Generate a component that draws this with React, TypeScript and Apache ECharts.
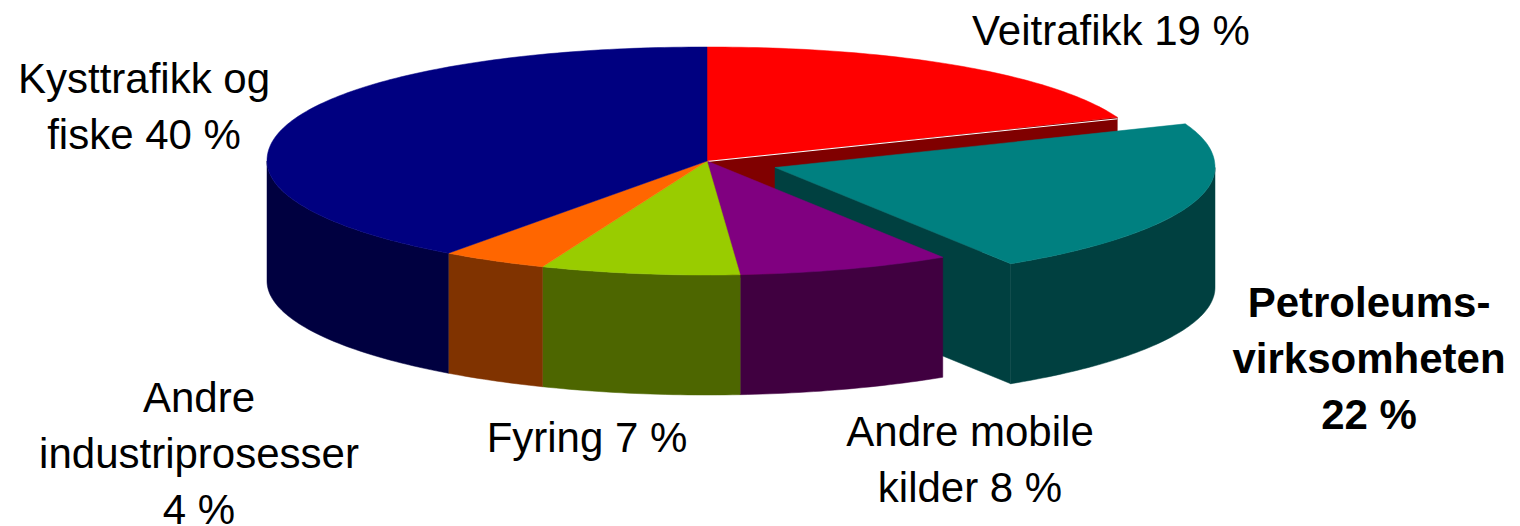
import React, { useEffect, useRef } from "react";
import * as echarts from "echarts";

const categories = ["Veitrafikk", "Petroleumsvirksomheten", "Andre mobile kilder", "Fyring", "Andre industriprosesser", "Kysttrafikk og fiske"];
const shares = [19, 22, 7.8, 7.3, 3.9, 40];
const exploded = [false, true, false, false, false, false];
const topColors = ["#FF0000", "#008080", "#800080", "#99CC00", "#FF6600", "#000080"];
const sideColors = ["#800000", "#004040", "#400040", "#4D6600", "#803300", "#000040"];
const labelTexts = [
  "Veitrafikk 19 %",
  "Petroleums-\nvirksomheten\n22 %",
  "Andre mobile\nkilder 8 %",
  "Fyring 7 %",
  "Andre\nindustriprosesser\n4 %",
  "Kysttrafikk og\nfiske 40 %",
];
const labelCenters = [
  [1111, 30],
  [1369, 358],
  [970, 459],
  [587, 437],
  [199, 453],
  [144, 106],
];

const CX = 707;
const CY = 161;
const RX = 440;
const RY = 114;
const DEPTH = 120;
const EXPLODE_X = 68;
const EXPLODE_Y = 6.5;
const BACK_SHOULDER = 0.96;
const total = shares.reduce((a, b) => a + b, 0);

function rim(cx: number, cy: number, from: number, to: number): number[][] {
  const pts: number[][] = [];
  const steps = Math.max(2, Math.ceil(to - from));
  for (let i = 0; i <= steps; i++) {
    const a = ((from + ((to - from) * i) / steps) * Math.PI) / 180;
    const s = Math.sin(a);
    const c = Math.cos(a);
    const p = c > 0 ? BACK_SHOULDER : 1;
    pts.push([
      cx + RX * Math.sign(s) * Math.pow(Math.abs(s), p),
      cy - RY * Math.sign(c) * Math.pow(Math.abs(c), p),
    ]);
  }
  return pts;
}

function renderSlice(params: any, api: any) {
  const i = params.dataIndex;
  const value = api.value(0);
  const before = shares.slice(0, i).reduce((a, b) => a + b, 0);
  const from = (before / total) * 360;
  const to = from + (value / total) * 360;
  const cx = CX + (exploded[i] ? EXPLODE_X : 0);
  const cy = CY + (exploded[i] ? EXPLODE_Y : 0);
  const children: any[] = [];
  const poly = (points: number[][], fill: string) => ({
    type: "polygon",
    shape: { points },
    style: { fill, stroke: fill, lineWidth: 0.5 },
  });
  const end = rim(cx, cy, to, to)[0];
  if (exploded[i] || exploded[(i + 1) % shares.length]) {
    children.push(
      poly([[cx, cy], end, [end[0], end[1] + DEPTH], [cx, cy + DEPTH]], sideColors[i])
    );
  }
  const sideFrom = Math.max(from, 90);
  const sideTo = Math.min(to, 270);
  if (sideTo > sideFrom) {
    const upper = rim(cx, cy, sideFrom, sideTo);
    const lower = upper.map(([x, y]) => [x, y + DEPTH]).reverse();
    children.push(poly(upper.concat(lower), sideColors[i]));
  }
  children.push(poly([[cx, cy], ...rim(cx, cy, from, to)], topColors[i]));
  if (exploded[(i + 1) % shares.length]) {
    children.push({
      type: "line",
      shape: { x1: cx, y1: cy + 0.5, x2: end[0], y2: end[1] + 1.5 },
      style: { stroke: "#FFFFFF", lineWidth: 1 },
    });
  }
  return { type: "group", children };
}

export default function App() {
  const ref = useRef<HTMLDivElement>(null);
  useEffect(() => {
    const chart = echarts.init(ref.current!, undefined, { renderer: "svg" });
    chart.setOption({
      animation: false,
      backgroundColor: "#FFFFFF",
      series: [
        {
          type: "custom",
          coordinateSystem: "none",
          clip: false,
          silent: true,
          data: shares.map((v, i) => ({ name: categories[i], value: [v] })),
          renderItem: renderSlice,
        },
      ],
      graphic: labelTexts.map((text, i) => ({
        type: "text",
        z: 10,
        x: labelCenters[i][0],
        y: labelCenters[i][1],
        style: {
          text,
          fill: "#000000",
          fontFamily: "Liberation Sans",
          fontSize: 42,
          fontWeight: exploded[i] ? "bold" : "normal",
          lineHeight: 56,
          align: "center",
          verticalAlign: "middle",
        },
      })),
    });
    return () => chart.dispose();
  }, []);
  return (
    <div
      ref={ref}
      style={{ position: "absolute", left: 0, top: 0, width: 1520, height: 526 }}
    />
  );
}
